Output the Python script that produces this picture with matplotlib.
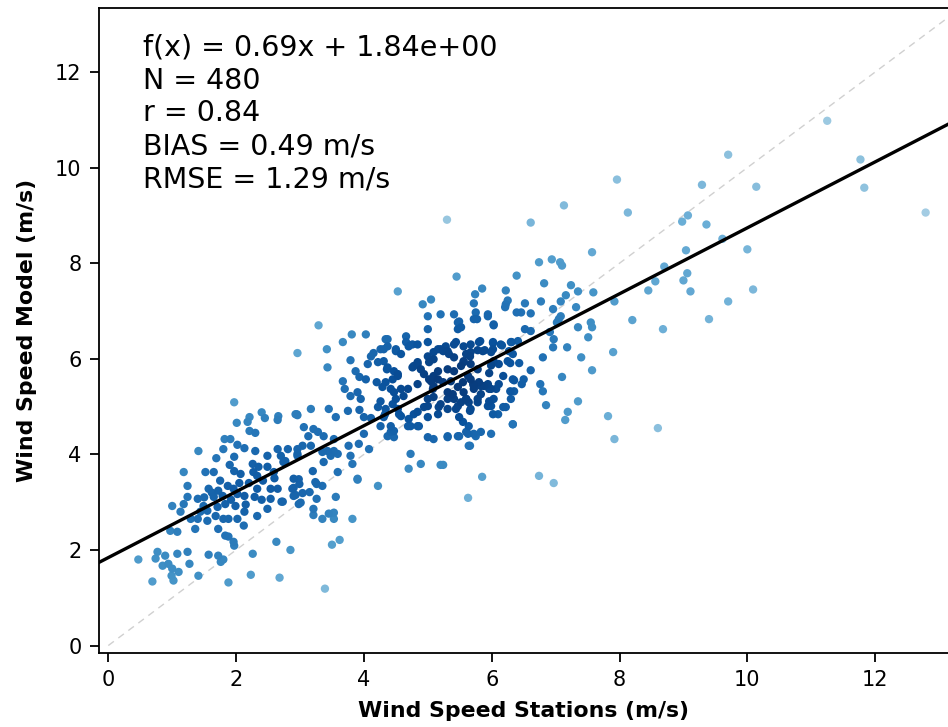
import numpy as np
import matplotlib
matplotlib.use("Agg")
import matplotlib.pyplot as plt

# lower cluster (stations < ~3 m/s)
stn_low = [1.97, 2.40, 2.45, 2.66, 2.65, 2.95, 2.21, 2.18, 2.01, 2.21, 2.30, 1.82, 1.91, 2.02, 2.13,
           1.80, 1.41, 2.30, 2.65, 2.49, 2.96, 1.69, 1.97, 2.26, 2.35, 2.49, 1.90, 1.18, 1.52, 1.65,
           1.97, 2.07, 2.27, 2.59, 2.77, 2.96, 2.33, 1.24, 1.57, 1.87, 1.96, 1.72, 2.33, 2.54, 2.65,
           2.88, 1.24, 1.40, 1.65, 1.79, 2.02, 2.13, 2.29, 2.54, 2.90, 1.18, 1.00, 1.49, 1.71, 1.83,
           1.99, 2.71, 2.98, 1.13, 1.44, 1.55, 1.68, 1.80, 1.88, 2.02, 2.13, 2.33, 2.49, 1.29, 1.40,
           1.55, 2.12, 1.36, 1.72, 0.97, 1.08, 1.83, 1.88, 1.96, 1.97, 2.63, 2.85, 2.26, 0.77, 0.89,
           1.08, 1.24, 1.57, 1.72, 1.80, 0.47, 0.74, 0.85, 0.94, 1.00, 1.10, 0.99, 1.27, 1.76, 0.69,
           1.02, 1.41, 1.88, 2.23, 2.68, 1.62, 1.92, 2.20, 2.42, 2.05, 1.75, 2.60, 2.15, 1.50, 2.40]
mod_low = [5.09, 4.88, 4.76, 4.80, 4.72, 4.84, 4.78, 4.68, 4.66, 4.49, 4.45, 4.32, 4.32, 4.20, 4.13,
           4.11, 4.07, 4.07, 4.11, 3.97, 4.11, 3.92, 3.95, 3.80, 3.74, 3.74, 3.78, 3.63, 3.63, 3.63,
           3.65, 3.59, 3.63, 3.63, 3.86, 4.01, 3.55, 3.34, 3.28, 3.34, 3.28, 3.24, 3.28, 3.28, 3.28,
           3.28, 3.11, 3.07, 3.11, 3.13, 3.17, 3.13, 3.11, 3.07, 3.13, 2.96, 2.92, 2.92, 2.90, 2.96,
           2.92, 3.01, 2.96, 2.80, 2.80, 2.82, 2.71, 2.65, 2.65, 2.65, 2.80, 2.71, 2.86, 2.65, 2.65,
           2.61, 2.51, 2.44, 2.44, 2.40, 2.38, 2.30, 2.28, 2.17, 2.09, 2.17, 2.00, 1.92, 1.96, 1.88,
           1.92, 1.96, 1.90, 1.88, 1.80, 1.80, 1.82, 1.67, 1.71, 1.61, 1.54, 1.46, 1.71, 1.75, 1.34,
           1.36, 1.46, 1.32, 1.48, 1.42, 3.20, 3.05, 3.40, 3.45, 3.40, 3.45, 3.50, 2.95, 3.10, 3.05]

# middle cluster (stations ~3-6 m/s)
stn_mid = [2.90, 2.99, 2.93, 3.04, 3.15, 3.26, 3.35, 2.73, 3.01, 3.26, 3.56, 3.90, 4.22, 3.21, 3.21,
           3.35, 3.45, 3.53, 3.53, 3.82, 3.62, 3.50, 3.39, 3.59, 3.24, 2.98, 2.93, 3.06, 3.21, 3.28,
           3.37, 3.13, 3.04, 3.17, 2.81, 2.70, 2.96, 3.35, 3.43, 3.53, 3.48, 3.59, 3.79, 3.92, 4.08,
           3.76, 4.00, 3.53, 4.26, 4.42, 4.47, 3.37, 3.82, 3.20, 2.90, 2.74, 2.96, 3.29, 3.42, 3.67,
           3.81, 4.03, 3.79, 3.43, 3.87, 3.93, 3.67, 3.70, 3.79, 3.90, 4.03, 4.20, 4.06, 4.11, 4.15,
           4.26, 4.37, 4.22, 4.31, 4.36, 4.50, 4.58, 4.66, 4.76, 4.70, 4.45, 4.29, 4.42, 4.53, 3.95,
           4.50, 4.69, 4.84, 4.26, 4.22, 3.93, 3.75, 3.45, 3.17, 2.96, 3.56, 4.00, 4.11, 4.33, 4.55,
           4.70, 4.84, 4.94, 5.00, 5.09, 5.20, 5.16, 5.00, 5.31, 5.41, 5.52, 5.44, 5.67, 5.78, 5.31,
           5.56, 5.72, 5.55, 5.36, 5.24, 5.09, 5.02, 5.09, 4.94, 5.16, 5.31, 5.41, 5.52, 5.67, 5.78,
           5.56, 5.41, 5.31, 5.20, 5.09, 5.00, 5.02, 4.84, 4.89, 4.78, 5.00, 5.00, 5.00, 5.20, 5.41,
           5.47, 5.47, 5.72, 5.75, 5.72, 4.92, 5.05, 5.41, 5.56, 5.67, 4.69, 4.86, 5.00, 5.09, 5.31,
           5.47, 5.63, 5.75, 5.64, 4.73, 4.89, 4.70, 5.20, 3.90, 5.30, 5.45, 4.53, 5.74, 4.34, 4.37,
           4.31, 4.50, 4.66, 4.84, 5.16, 5.24, 5.33, 5.28, 5.44, 5.60, 5.67, 5.80, 5.86, 4.34, 4.47,
           4.53, 4.37, 4.84, 4.76, 5.09, 4.58, 4.62, 4.47, 4.45, 4.34, 4.53, 4.31, 4.42, 4.47, 4.37,
           5.05, 5.16, 5.08, 5.17, 5.00, 5.39, 5.47, 5.67, 5.31, 5.47, 5.60, 5.64, 5.49, 5.72, 5.83,
           5.94, 5.60, 5.72, 5.83, 5.99, 5.55, 5.64, 4.78, 4.58, 4.84, 4.73, 5.94, 5.49, 5.52, 5.66,
           5.31, 5.49, 5.66, 5.24, 5.85, 5.63]
mod_mid = [3.30, 3.38, 3.15, 3.19, 3.21, 3.38, 3.34, 3.01, 2.99, 3.07, 3.11, 3.47, 3.34, 2.86, 2.73,
           2.65, 2.76, 2.78, 2.65, 2.65, 2.21, 2.11, 1.19, 3.63, 3.42, 3.48, 4.84, 4.57, 4.53, 4.47,
           4.38, 4.38, 4.18, 4.18, 4.11, 3.97, 3.97, 4.05, 4.07, 4.07, 3.97, 4.01, 3.97, 4.22, 4.11,
           4.18, 4.43, 4.32, 4.59, 4.47, 4.36, 3.84, 3.80, 3.65, 3.49, 3.84, 6.12, 6.70, 6.20, 6.35,
           6.51, 6.51, 5.97, 5.82, 5.74, 5.62, 5.53, 5.37, 5.22, 5.30, 5.57, 5.51, 5.89, 6.05, 6.12,
           6.20, 6.41, 5.93, 5.95, 5.78, 6.20, 6.10, 6.47, 6.30, 6.26, 5.57, 5.41, 5.37, 5.64, 5.16,
           5.16, 5.37, 5.47, 5.11, 4.99, 4.93, 4.91, 4.95, 4.95, 4.82, 4.78, 4.78, 4.76, 4.84, 4.84,
           4.74, 4.89, 4.99, 5.16, 5.20, 5.05, 4.84, 4.78, 5.16, 5.16, 5.09, 4.95, 4.95, 5.16, 5.30,
           5.30, 5.43, 5.51, 5.53, 5.51, 5.43, 5.57, 5.64, 5.68, 5.74, 5.78, 5.74, 5.85, 5.89, 5.78,
           5.95, 6.03, 6.16, 6.20, 6.14, 6.05, 5.93, 5.89, 5.78, 5.85, 6.35, 6.62, 6.89, 6.93, 6.93,
           6.76, 6.62, 6.83, 6.97, 7.16, 7.14, 7.24, 6.30, 6.26, 6.14, 4.59, 4.59, 4.36, 4.32, 4.38,
           4.38, 4.43, 4.38, 4.18, 4.01, 3.80, 3.70, 3.78, 3.49, 8.91, 7.72, 7.41, 7.35, 6.41, 6.26,
           6.20, 6.16, 6.35, 6.30, 6.20, 6.16, 6.10, 6.26, 6.35, 6.10, 6.30, 6.35, 6.16, 5.51, 5.74,
           5.68, 5.82, 5.93, 5.82, 5.99, 5.37, 5.22, 5.30, 5.05, 4.95, 4.95, 4.78, 4.59, 4.49, 4.38,
           5.53, 5.57, 5.37, 4.99, 5.01, 5.26, 5.41, 5.57, 4.95, 5.01, 5.16, 5.09, 4.78, 5.37, 5.43,
           5.47, 4.47, 4.43, 4.47, 4.43, 4.68, 4.59, 4.84, 4.80, 4.59, 4.59, 6.93, 6.78, 6.66, 4.91,
           4.36, 4.38, 4.18, 3.78, 3.53, 3.09]

# upper tail (stations > ~6 m/s)
stn_high = [6.02, 6.03, 6.22, 6.39, 6.14, 6.30, 6.41, 6.27, 6.25, 5.99, 6.03, 6.11, 6.33, 6.35, 6.30,
            6.22, 6.11, 5.96, 5.83, 6.03, 5.94, 6.33, 6.10, 6.61, 7.57, 6.74, 6.94, 7.07, 7.10, 6.39,
            5.85, 6.22, 6.82, 7.24, 7.35, 6.25, 6.52, 6.77, 7.08, 7.16, 6.21, 6.96, 7.32, 6.46, 6.61,
            5.94, 5.77, 7.08, 7.05, 7.02, 7.55, 7.57, 7.92, 8.45, 8.20, 6.03, 7.35, 6.52, 6.61, 6.91,
            7.51, 5.82, 6.02, 6.16, 6.31, 6.97, 6.96, 7.18, 5.78, 5.89, 6.02, 5.66, 6.33, 6.80, 7.40,
            7.90, 5.56, 5.99, 6.29, 6.43, 6.61, 7.57, 5.96, 6.18, 5.63, 5.71, 5.80, 5.88, 5.99, 6.07,
            6.35, 6.50, 6.47, 7.10, 6.76, 6.29, 6.80, 5.60, 5.78, 5.96, 5.99, 6.18, 6.85, 7.19, 7.35,
            7.82, 6.02, 7.15, 7.92, 8.60, 6.74, 6.97, 7.96, 8.13, 7.13, 11.25, 9.70, 9.29, 10.14, 11.77,
            11.83, 12.79, 8.98, 9.07, 9.36, 9.61, 9.04, 10.00, 8.70, 8.56, 9.06, 9.00, 9.11, 10.09, 9.70,
            9.40, 8.68, 6.33, 7.59]
mod_high = [6.35, 5.95, 7.14, 6.97, 6.30, 6.35, 6.37, 6.16, 5.95, 6.14, 6.72, 5.89, 5.57, 5.32, 5.16,
            4.99, 5.47, 5.37, 5.26, 5.16, 5.01, 4.63, 4.84, 8.85, 8.23, 8.02, 8.08, 8.02, 7.95, 7.74,
            7.47, 7.43, 7.58, 7.54, 7.41, 7.22, 7.16, 7.20, 7.20, 7.33, 7.08, 7.04, 7.08, 6.97, 6.95,
            6.89, 6.83, 6.89, 6.83, 6.76, 6.76, 6.66, 7.20, 7.43, 6.81, 6.70, 6.66, 6.62, 6.58, 6.56,
            6.45, 6.37, 6.33, 6.28, 6.35, 6.41, 6.24, 6.24, 6.18, 6.18, 6.20, 6.05, 6.10, 6.03, 6.03,
            6.14, 5.93, 5.86, 5.91, 5.91, 5.76, 5.76, 5.70, 5.64, 5.64, 5.47, 5.51, 5.43, 5.37, 5.37,
            5.55, 5.57, 5.47, 5.62, 5.47, 5.32, 5.32, 5.16, 5.09, 5.11, 5.01, 4.99, 5.03, 4.89, 5.11,
            4.80, 4.84, 4.72, 4.32, 4.55, 3.55, 3.40, 9.75, 9.06, 9.21, 10.98, 10.27, 9.64, 9.60, 10.17,
            9.58, 9.06, 8.87, 9.00, 8.81, 8.51, 8.27, 8.29, 7.93, 7.62, 7.79, 7.64, 7.41, 7.45, 7.20,
            6.83, 6.62, 4.63, 7.39]

slope, intercept = 0.69, 1.84
stats_lines = ["f(x) = 0.69x + 1.84e+00", "N = 480", "r = 0.84",
               "BIAS = 0.49 m/s", "RMSE = 1.29 m/s"]

x = np.array(stn_low + stn_mid + stn_high)
y = np.array(mod_low + mod_mid + mod_high)

# point density for colouring (gaussian kernel)
h = 0.6
d2 = (x[:, None] - x[None, :]) ** 2 + (y[:, None] - y[None, :]) ** 2
dens = np.exp(-d2 / (2 * h * h)).sum(axis=1)
order = np.argsort(dens)
x, y, dens = x[order], y[order], dens[order]
dn = (dens - dens.min()) / (dens.max() - dens.min())
colors = plt.cm.Blues(0.36 + 0.6 * dn ** 0.5)

fig = plt.figure(figsize=(9.48, 7.27), dpi=100)
ax = fig.add_axes([0.1044, 0.1022, 0.8956, 0.8868])

xlim = (-0.146, 13.14)
ylim = (-0.15, 13.34)
ax.set_xlim(*xlim)
ax.set_ylim(*ylim)

ax.plot([0, 14], [0, 14], ls=(0, (5, 4)), color="#d0d0d0", lw=1.0, zorder=1)
ax.scatter(x, y, c=colors, s=36, edgecolors="none", zorder=2)
xs = np.array(xlim)
ax.plot(xs, slope * xs + intercept, color="black", lw=2.4, zorder=3)

ax.text(0.052, 0.96, "\n".join(stats_lines), transform=ax.transAxes,
        ha="left", va="top", fontsize=20.5, linespacing=1.22)

ax.set_xticks(range(0, 13, 2))
ax.set_yticks(range(0, 13, 2))
ax.tick_params(labelsize=15, length=6.5, width=1.3, pad=6)
for side in ("left", "bottom", "top"):
    ax.spines[side].set_linewidth(1.3)
ax.spines["right"].set_visible(False)
ax.set_xlabel("Wind Speed Stations (m/s)", fontsize=15.8, fontweight="bold", labelpad=8)
ax.set_ylabel("Wind Speed Model (m/s)", fontsize=15.8, fontweight="bold", labelpad=13)

fig.savefig("out.png", dpi=100)
